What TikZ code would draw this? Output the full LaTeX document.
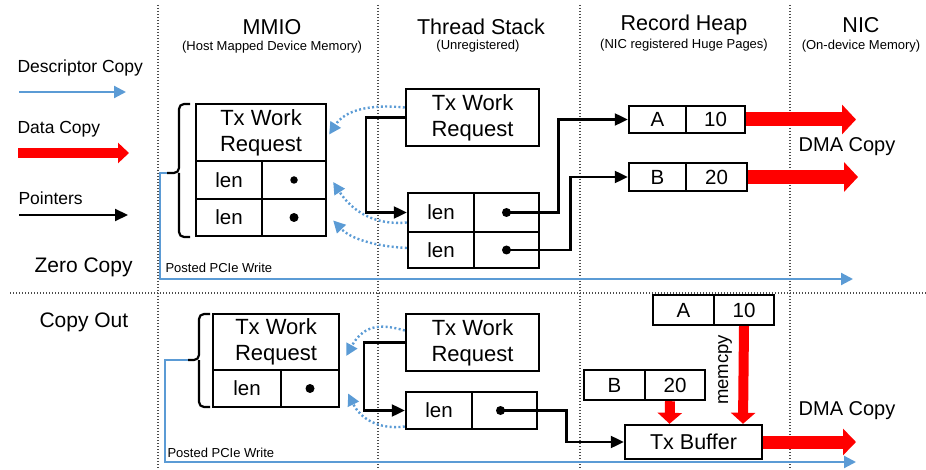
\documentclass[tikz,border=0pt]{standalone}
\usepackage{fontspec}
\setmainfont{Liberation Sans}
\usetikzlibrary{arrows.meta,calc}
\definecolor{descblue}{HTML}{5B9BD5}
\definecolor{datared}{HTML}{FF0000}
\newcommand{\fsz}[2]{\fontsize{#1}{#2}\selectfont}

\begin{document}
\begin{tikzpicture}[x=1pt,y=-1pt,
  cell/.style={draw, line width=2.4pt, inner sep=0pt, align=center, font=\fsz{20.5}{26}},
  wreq/.style={cell, font=\fsz{22}{26}},
  ptr/.style={line width=2.2pt, -{Triangle[length=13pt,width=12pt]}},
  desc/.style={descblue, line width=2.2pt, -{Triangle[length=12pt,width=12pt]}},
  copyarc/.style={descblue, line width=2.4pt, dash pattern=on 2pt off 2.4pt, -{Triangle[length=12pt,width=12pt]}},
  redarr/.style={datared, line width=14pt, -{Triangle[length=14pt,width=29pt]}},
  memarr/.style={datared, line width=10pt, -{Triangle[length=11pt,width=24pt]}},
  sep/.style={gray!60!black, line width=1.4pt, dash pattern=on 1.4pt off 1.6pt},
  bracket/.style={line width=2.2pt, rounded corners=5pt},
  title/.style={font=\fsz{21.5}{24}},
  subtitle/.style={font=\fsz{13}{15}},
  legend/.style={anchor=west, font=\fsz{17.5}{21}},
  mode/.style={anchor=west, font=\fsz{21}{24}},
  small/.style={anchor=west, font=\fsz{13}{15}},
  dmalabel/.style={font=\fsz{20}{23}},
  dot/.style={circle, fill=black, inner sep=0pt, minimum size=9pt}]

\useasboundingbox (0,0) rectangle (926,470);

% column and section separators
\foreach \sx in {158,378,580,790}
  \draw[sep] (\sx,5) -- (\sx,470);
\draw[sep] (10,293) -- (926,293);

% column headings
\node[title]    (hmmio) at (272,27) {MMIO};
\node[subtitle] (smmio) at (272,47) {(Host Mapped Device Memory)};
\node[title]    (hstk)  at (481,27) {Thread Stack};
\node[subtitle] (sstk)  at (478,46) {(Unregistered)};
\node[title]    (hheap) at (684,25) {Record Heap};
\node[subtitle] (sheap) at (684,45) {(NIC registered Huge Pages)};
\node[title]    (hnic)  at (861,25) {NIC};
\node[subtitle] (snic)  at (861,46) {(On-device Memory)};

% legend
\node[legend] (ldesc) at (14,68)  {Descriptor Copy};
\coordinate (ld0) at (19,92);  \coordinate (ld1) at (126,92);
\draw[desc] (ld0) -- (ld1);
\node[legend] (ldata) at (14,129) {Data Copy};
\coordinate (lr0) at (18,153); \coordinate (lr1) at (129,153);
\draw[datared, line width=10pt, -{Triangle[length=11pt,width=20pt]}] (lr0) -- (lr1);
\node[legend] (lptr)  at (15,198) {Pointers};
\coordinate (lp0) at (19,215); \coordinate (lp1) at (128,215);
\draw[ptr] (lp0) -- (lp1);

\node[mode] (zc) at (31,267) {Zero Copy};
\node[mode] (co) at (36,322) {Copy Out};

% ---------------- zero copy ----------------
% descriptor in MMIO
\node[wreq, minimum width=130pt, minimum height=57pt] (mh) at (261,132.5) {Tx Work\\Request};
\node[cell, minimum width=66pt, minimum height=38pt] (m1l) at (229,180) {len};
\node[cell, minimum width=64pt, minimum height=38pt] (m1r) at (294,180) {};
\node[cell, minimum width=66pt, minimum height=37pt] (m2l) at (229,217.5) {len};
\node[cell, minimum width=64pt, minimum height=37pt] (m2r) at (294,217.5) {};
\node[dot, minimum size=7.5pt] (md1) at (m1r.center) {};
\node[dot] (md2) at (m2r.center) {};
% bracket grouping the descriptor
\coordinate (pw1) at (167,173);
\draw[bracket] (190,104) -- (179,104) -- (179,173) -- (pw1);
\draw[bracket] (190,237) -- (179,237) -- (179,173);
\coordinate (nic1) at (853,279);
\draw[desc] (pw1) -- ++(-7,0) |- (nic1);
\node[small] (pl1) at (162,268) {Posted PCIe Write};

% descriptor on the thread stack
\node[wreq, minimum width=133pt, minimum height=57pt] (th) at (472.5,117.5) {Tx Work\\Request};
\node[cell, minimum width=66pt, minimum height=39pt] (t1l) at (441,212.5) {len};
\node[cell, minimum width=65pt, minimum height=39pt] (t1r) at (506.5,212.5) {};
\node[cell, minimum width=66pt, minimum height=36pt] (t2l) at (441,250) {len};
\node[cell, minimum width=65pt, minimum height=36pt] (t2r) at (506.5,250) {};
\node[dot] (td1) at (t1r.center) {};
\node[dot] (td2) at (t2r.center) {};

% records in the heap
\node[cell, minimum width=57pt, minimum height=27pt] (ra) at (657.5,119.5) {A};
\node[cell, minimum width=59pt, minimum height=27pt] (ra10) at (715.5,119.5) {10};
\node[cell, minimum width=57pt, minimum height=28pt] (rb) at (657.5,177) {B};
\node[cell, minimum width=61pt, minimum height=28pt] (rb20) at (716.5,177) {20};

% pointers
\draw[ptr] (th.west) -- ++(-39,0) |- (t1l.west);
\draw[ptr] (td1.center) -- ++(52,0) |- (ra.west);
\draw[ptr] (td2.center) -- ++(64,0) |- (rb.west);

% descriptor copies into MMIO
\draw[copyarc] ([yshift=10]th.west) .. controls (370,104) and (345,110) .. ([xshift=2,yshift=-2]mh.east);
\draw[copyarc] ([yshift=-10]t1l.west) .. controls (368,226) and (348,205) .. ([xshift=6,yshift=-2]m1r.east);
\draw[copyarc] ([yshift=2]t2l.west) .. controls (372,246) and (350,238) .. ([xshift=6,yshift=-3]m2r.east);

% DMA from the heap
\coordinate (dmaA) at (856,119.5);
\coordinate (dmaB) at (858,177);
\draw[redarr] (ra10.east) -- (dmaA);
\draw[redarr] (rb20.east) -- (dmaB);
\node[dmalabel] (dma1) at (847,147) {DMA Copy};

% ---------------- copy out ----------------
\node[wreq, minimum width=126pt, minimum height=56pt] (mh2) at (276,342) {Tx Work\\Request};
\node[cell, minimum width=68pt, minimum height=37pt] (ml2) at (247,388.5) {len};
\node[cell, minimum width=58pt, minimum height=37pt] (mr2) at (310,388.5) {};
\node[dot] (md3) at (mr2.center) {};
\coordinate (pw2) at (188,360);
\draw[bracket] (210,314) -- (199,314) -- (199,360) -- (pw2);
\draw[bracket] (210,407) -- (199,407) -- (199,360);
\coordinate (nic2) at (856,462);
\draw[desc] (pw2) -- ++(-23,0) |- (nic2);
\node[small] (pl2) at (164,453) {Posted PCIe Write};

\node[wreq, minimum width=133pt, minimum height=57pt] (th2) at (472.5,342.5) {Tx Work\\Request};
\node[cell, minimum width=66pt, minimum height=37pt] (tl2) at (439,410.5) {len};
\node[cell, minimum width=65pt, minimum height=37pt] (tr2) at (504.5,410.5) {};
\node[dot] (td3) at ([xshift=-4]tr2.center) {};

\node[cell, minimum width=61pt, minimum height=30pt] (ca) at (683.5,310) {A};
\node[cell, minimum width=60pt, minimum height=30pt] (ca10) at (744,310) {10};
\node[cell, minimum width=61pt, minimum height=30pt] (cb) at (614.5,385) {B};
\node[cell, minimum width=60pt, minimum height=30pt] (cb20) at (675,385) {20};
\node[cell, minimum width=137pt, minimum height=34pt, font=\fsz{21.5}{24}] (txb) at (693.5,442) {Tx Buffer};

\draw[ptr] (th2.west) -- ++(-41,0) |- (tl2.west);
\draw[ptr] (td3.center) -- ++(66,0) |- (txb.west);

\draw[copyarc] ([yshift=12]th2.west) .. controls (385,325) and (365,322) .. ([xshift=6,yshift=-14]mh2.east);
\draw[copyarc] ([yshift=-16]tl2.west) .. controls (378,430) and (360,418) .. ([xshift=8,yshift=-5]mr2.east);

% memcpy into the transmit buffer
\draw[memarr] ([xshift=-5]cb20.south) -- ([xshift=-24]txb.north);
\draw[memarr] (ca10.south) -- ([xshift=49.5]txb.north);
\node[rotate=90, font=\fsz{18.5}{21}] (mc) at (725,370) {memcpy};

\coordinate (dmaC) at (856,442);
\draw[datared, line width=13pt, -{Triangle[length=13pt,width=26pt]}] (txb.east) -- (dmaC);
\node[dmalabel] (dma2) at (847,411) {DMA Copy};

\end{tikzpicture}
\end{document}
